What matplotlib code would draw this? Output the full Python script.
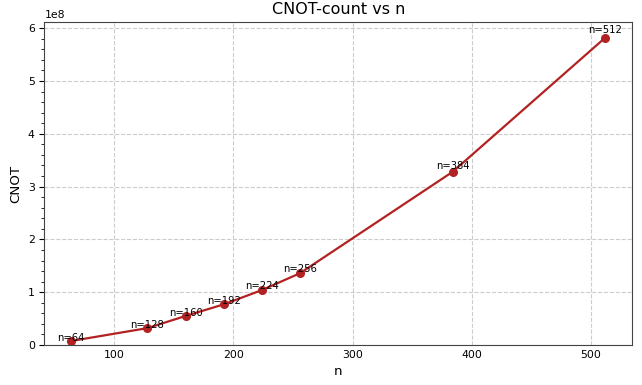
import matplotlib
matplotlib.use("Agg")
from matplotlib import pyplot as plt
from matplotlib.ticker import AutoMinorLocator

n_values = [64, 128, 160, 192, 224, 256, 384, 512]
cnot_counts = [0.076e8, 0.32e8, 0.55e8, 0.77e8, 1.04e8, 1.36e8, 3.28e8, 5.82e8]

fig, ax = plt.subplots(figsize=(6.42, 3.85), dpi=100)
fig.subplots_adjust(left=0.0693, right=0.9844, top=0.9416, bottom=0.1039)

ax.plot(n_values, cnot_counts, color="firebrick", marker="o", markersize=5.5, linewidth=1.6)

# labels sit just above each point
for n, c in zip(n_values, cnot_counts):
    ax.text(n, c * 1.015, "n=%d" % n, ha="center", va="baseline", fontsize=7.2)

ax.set_ylim(bottom=0)
ax.yaxis.set_minor_locator(AutoMinorLocator(5))
ax.tick_params(axis="x", length=0, labelsize=7.8)
ax.tick_params(axis="y", labelsize=7.8)
ax.grid(True, linestyle="--", color="#cccccc", linewidth=0.8)
for s in ax.spines.values():
    s.set_color("#444444")
ax.yaxis.get_offset_text().set_fontsize(7.8)

ax.set_title("CNOT-count vs n", fontsize=11.5)
ax.set_xlabel("n", fontsize=9.6)
ax.set_ylabel("CNOT", fontsize=9.6)

fig.savefig("out.png", dpi=100)
